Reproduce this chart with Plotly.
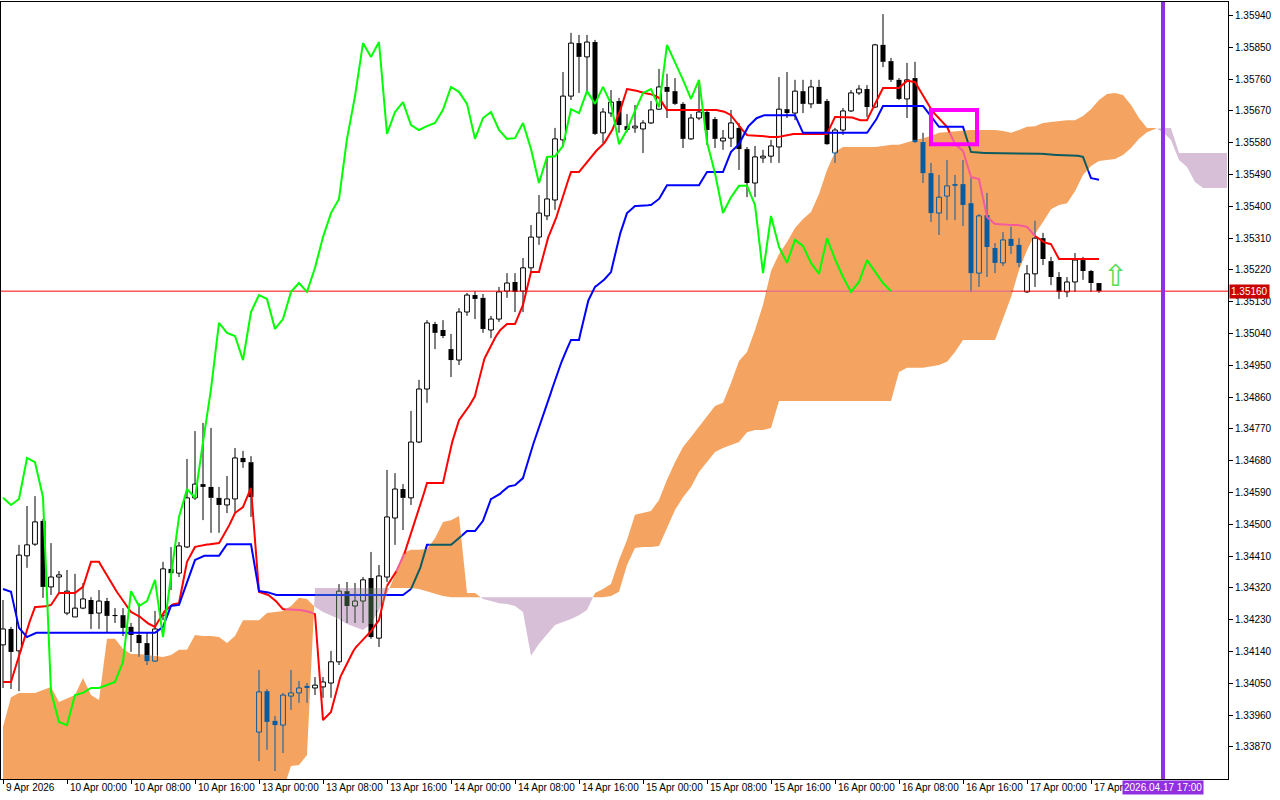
import numpy as np
import plotly.graph_objects as go

# ---------------- data (prices in points: 1 point = 0.00001) ----------------
tick_bars = [0, 8, 16, 24, 32, 40, 48, 56, 64, 72, 80, 88, 96, 104, 112, 120, 128, 136]
tick_labels = ["9 Apr 2026", "10 Apr 00:00", "10 Apr 08:00", "10 Apr 16:00", "13 Apr 00:00",
               "13 Apr 08:00", "13 Apr 16:00", "14 Apr 00:00", "14 Apr 08:00", "14 Apr 16:00",
               "15 Apr 00:00", "15 Apr 08:00", "15 Apr 16:00", "16 Apr 00:00", "16 Apr 08:00",
               "16 Apr 16:00", "17 Apr 00:00", "17 Apr 08:00"]
price_ticks = [1.33870, 1.33960, 1.34050, 1.34140, 1.34230, 1.34320, 1.34410, 1.34500,
               1.34590, 1.34680, 1.34770, 1.34860, 1.34950, 1.35040, 1.35130, 1.35220,
               1.35310, 1.35400, 1.35490, 1.35580, 1.35670, 1.35760, 1.35850, 1.35940]

open_pts = [134159, 134204, 134142, 134411, 134444, 134510, 134323, 134351, 134249, 134238,
            134263, 134286, 134249, 134283, 134243, 134243, 134210, 134187, 134164, 134113,
            134243, 134374, 134362, 134436, 134575, 134614, 134606, 134575, 134555, 134572,
            134688, 134676, 133912, 134028, 133944, 133932, 134014, 134023, 134043, 134037,
            134040, 134051, 134111, 134311, 134269, 134283, 134348, 134178, 134351, 134518,
            134600, 134575, 134733, 134883, 135067, 135050, 134996, 134965, 135101, 135149,
            135141, 135050, 135081, 135160, 135186, 135160, 135226, 135313, 135373, 135418,
            135588, 135712, 135862, 135823, 135865, 135608, 135664, 135698, 135627, 135622,
            135619, 135636, 135675, 135738, 135726, 135690, 135591, 135650, 135667, 135647,
            135585, 135593, 135622, 135562, 135466, 135537, 135542, 135568, 135675, 135664,
            135726, 135690, 135738, 135698, 135551, 135616, 135670, 135721, 135732, 135681,
            135857, 135811, 135758, 135704, 135763, 135582, 135494, 135381, 135429, 135463,
            135463, 135409, 135211, 135375, 135282, 135240, 135308, 135291, 135158, 135209,
            135310, 135245, 135200, 135158, 135186, 135248, 135217, 135183]
high_pts = [134286, 134210, 134442, 134552, 134580, 134515, 134447, 134368, 134371, 134360,
            134334, 134294, 134314, 134292, 134263, 134263, 134221, 134277, 134193, 134255,
            134394, 134436, 134450, 134685, 134764, 134787, 134773, 134606, 134637, 134716,
            134708, 134693, 134088, 134034, 133958, 134023, 134088, 134057, 134051, 134068,
            134068, 134142, 134331, 134337, 134334, 134351, 134422, 134385, 134654, 134645,
            134614, 134821, 134909, 135078, 135073, 135078, 135039, 135112, 135155, 135160,
            135152, 135090, 135172, 135211, 135211, 135254, 135347, 135432, 135540, 135622,
            135780, 135891, 135885, 135885, 135871, 135678, 135729, 135707, 135661, 135687,
            135644, 135698, 135789, 135775, 135763, 135695, 135661, 135755, 135673, 135653,
            135616, 135673, 135636, 135568, 135571, 135560, 135588, 135766, 135780, 135758,
            135758, 135758, 135758, 135704, 135622, 135678, 135729, 135743, 135743, 135860,
            135944, 135820, 135763, 135806, 135809, 135608, 135523, 135489, 135531, 135489,
            135531, 135480, 135378, 135438, 135296, 135327, 135342, 135310, 135234, 135359,
            135325, 135257, 135214, 135200, 135268, 135257, 135220, 135183]
low_pts = [134037, 134034, 134028, 134377, 134439, 134292, 134300, 134306, 134243, 134238,
           134260, 134204, 134204, 134195, 134221, 134184, 134139, 134125, 134102, 134111,
           134229, 134314, 134351, 134433, 134569, 134512, 134476, 134476, 134532, 134532,
           134660, 134521, 133830, 133862, 133802, 133853, 133975, 133995, 133995, 134017,
           134009, 134009, 134102, 134221, 134221, 134221, 134176, 134153, 134337, 134442,
           134484, 134555, 134730, 134844, 134996, 135027, 134917, 134951, 135090, 135081,
           135042, 135027, 135073, 135141, 135101, 135101, 135214, 135291, 135361, 135390,
           135568, 135701, 135721, 135724, 135602, 135579, 135653, 135608, 135610, 135608,
           135551, 135633, 135673, 135650, 135687, 135565, 135588, 135644, 135574, 135565,
           135560, 135568, 135503, 135426, 135426, 135523, 135523, 135523, 135650, 135644,
           135664, 135678, 135690, 135574, 135523, 135602, 135667, 135715, 135653, 135678,
           135794, 135752, 135701, 135650, 135579, 135466, 135356, 135319, 135361, 135361,
           135344, 135158, 135172, 135200, 135211, 135231, 135265, 135228, 135155, 135172,
           135234, 135177, 135138, 135143, 135158, 135192, 135158, 135155]
close_pts = [134204, 134139, 134413, 134442, 134507, 134323, 134351, 134357, 134311, 134263,
             134289, 134246, 134283, 134241, 134241, 134207, 134187, 134164, 134113, 134204,
             134374, 134362, 134439, 134575, 134614, 134606, 134575, 134555, 134572, 134688,
             134676, 134577, 134026, 133941, 133932, 134017, 134023, 134037, 134037, 134045,
             134054, 134111, 134311, 134269, 134283, 134343, 134181, 134354, 134521, 134600,
             134575, 134733, 134883, 135070, 135042, 135033, 134965, 135101, 135149, 135138,
             135053, 135081, 135158, 135183, 135158, 135226, 135313, 135381, 135421, 135591,
             135712, 135862, 135823, 135865, 135605, 135667, 135695, 135630, 135616, 135627,
             135636, 135673, 135738, 135724, 135690, 135591, 135650, 135667, 135616, 135591,
             135593, 135636, 135562, 135466, 135540, 135542, 135571, 135675, 135664, 135726,
             135690, 135738, 135690, 135576, 135616, 135670, 135721, 135732, 135681, 135857,
             135809, 135758, 135704, 135758, 135582, 135494, 135381, 135426, 135458, 135458,
             135404, 135211, 135373, 135285, 135240, 135305, 135288, 135240, 135209, 135310,
             135251, 135200, 135158, 135186, 135248, 135217, 135183, 135160]
tenkan_pts = [134054, 134054, 134130, 134204, 134266, 134266, 134272, 134306, 134306, 134306,
              134323, 134394, 134394, 134354, 134317, 134283, 134252, 134241, 134221, 134210,
              134249, 134272, 134277, 134394, 134436, 134442, 134444, 134447, 134484, 134532,
              134549, 134603, 134309, 134303, 134286, 134260, 134260, 134258, 134255, 134246,
              133946, 133969, 134060, 134108, 134150, 134173, 134198, 134229, 134326, 134360,
              134405, 134473, 134541, 134617, 134617, 134617, 134722, 134795, 134824, 134863,
              134960, 135008, 135047, 135067, 135067, 135121, 135214, 135214, 135305, 135356,
              135432, 135497, 135497, 135526, 135554, 135574, 135608, 135661, 135732, 135729,
              135721, 135718, 135707, 135673, 135673, 135673, 135673, 135673, 135675, 135673,
              135670, 135658, 135627, 135602, 135599, 135599, 135596, 135596, 135602, 135605,
              135605, 135605, 135605, 135605, 135653, 135653, 135653, 135644, 135644, 135690,
              135735, 135735, 135735, 135755, 135752, 135712, 135673, 135650, 135625, 135576,
              135557, 135483, 135477, 135370, 135350, 135350, 135347, 135347, 135342, 135316,
              135299, 135293, 135251, 135251, 135251, 135251, 135251, 135251]
kijun_pts = [134317, 134309, 134207, 134181, 134193, 134193, 134193, 134193, 134193, 134193,
             134193, 134193, 134193, 134193, 134193, 134193, 134193, 134193, 134193, 134193,
             134210, 134269, 134272, 134337, 134399, 134411, 134411, 134411, 134444, 134444,
             134444, 134444, 134311, 134309, 134300, 134300, 134300, 134300, 134300, 134300,
             134300, 134300, 134300, 134300, 134300, 134300, 134300, 134300, 134300, 134300,
             134300, 134317, 134365, 134442, 134442, 134442, 134442, 134461, 134481, 134481,
             134510, 134572, 134583, 134606, 134611, 134631, 134710, 134773, 134838, 134909,
             134971, 135022, 135022, 135126, 135172, 135189, 135214, 135313, 135381, 135401,
             135401, 135404, 135421, 135460, 135460, 135460, 135460, 135460, 135497, 135497,
             135497, 135554, 135576, 135622, 135647, 135658, 135658, 135658, 135658, 135658,
             135608, 135608, 135608, 135608, 135608, 135608, 135608, 135608, 135608, 135639,
             135684, 135684, 135684, 135684, 135684, 135684, 135656, 135625, 135625, 135625,
             135625, 135554, 135551, 135551, 135551, 135551, 135551, 135551, 135551, 135551,
             135548, 135545, 135545, 135545, 135545, 135540, 135480, 135475]
span_a_pts = [133927, 134011, 134023, 134023, 134023, 134031, 134040, 133997, 134006, 134017,
              134065, 134017, 134003, 134176, 134176, 134147, 134133, 134133, 134130, 134128,
              134125, 134130, 134145, 134145, 134187, 134184, 134184, 134181, 134164, 134184,
              134229, 134229, 134229, 134249, 134252, 134255, 134269, 134292, 134289, 134266,
              134252, 134241, 134232, 134218, 134210, 134201, 134218, 134258, 134303, 134357,
              134419, 134428, 134428, 134430, 134461, 134507, 134512, 134524, 134306, 134306,
              134289, 134283, 134277, 134275, 134269, 134252, 134128, 134162, 134190, 134215,
              134224, 134232, 134243, 134258, 134306, 134317, 134331, 134399, 134456, 134527,
              134532, 134538, 134569, 134626, 134676, 134719, 134747, 134776, 134807, 134835,
              134844, 134900, 134962, 134988, 135050, 135121, 135217, 135265, 135299, 135339,
              135364, 135384, 135435, 135503, 135554, 135568, 135568, 135568, 135568, 135568,
              135571, 135574, 135574, 135582, 135588, 135593, 135599, 135608, 135610, 135613,
              135616, 135616, 135616, 135616, 135616, 135613, 135608, 135616, 135625, 135627,
              135636, 135639, 135642, 135644, 135644, 135656, 135675, 135701, 135718, 135721,
              135715, 135687, 135650, 135622, 135622, 135610, 135588, 135531, 135511, 135469,
              135452, 135452, 135452, 135452]
span_b_pts = [133720, 133720, 133720, 133720, 133720, 133720, 133720, 133720, 133720, 133720,
              133720, 133720, 133720, 133720, 133720, 133720, 133720, 133720, 133720, 133720,
              133720, 133720, 133720, 133720, 133720, 133720, 133720, 133720, 133720, 133720,
              133720, 133720, 133720, 133720, 133720, 133748, 133816, 133819, 133847, 134320,
              134320, 134320, 134320, 134320, 134320, 134320, 134320, 134320, 134320, 134320,
              134320, 134320, 134317, 134311, 134303, 134297, 134294, 134294, 134294, 134294,
              134294, 134294, 134294, 134294, 134294, 134294, 134294, 134294, 134294, 134294,
              134294, 134294, 134294, 134294, 134294, 134294, 134297, 134309, 134385, 134433,
              134436, 134436, 134439, 134490, 134541, 134577, 134606, 134648, 134676, 134705,
              134716, 134725, 134733, 134761, 134767, 134767, 134773, 134849, 134849, 134849,
              134849, 134849, 134849, 134849, 134849, 134849, 134849, 134849, 134849, 134849,
              134849, 134849, 134931, 134943, 134943, 134943, 134948, 134951, 134960, 134988,
              135022, 135022, 135022, 135022, 135022, 135084, 135143, 135220, 135276, 135322,
              135356, 135392, 135404, 135409, 135443, 135489, 135514, 135528, 135531, 135534,
              135545, 135565, 135591, 135610, 135619, 135622, 135622, 135551, 135551, 135551,
              135551, 135551, 135551, 135551]
CHIKOU_SHIFT = 26
bid_price = 1.35160
event_bar = 145
event_label = "2026.04.17 17:00"
signal_bar = 139
signal_price = 1.35203
box_bars = [116.0, 121.75]
box_prices = [1.35673, 1.35576]

# ---------------- preparation ----------------
PT = 1e-5
o = np.array(open_pts) * PT
h = np.array(high_pts) * PT
l = np.array(low_pts) * PT
c = np.array(close_pts) * PT
ten = np.array(tenkan_pts) * PT
kij = np.array(kijun_pts) * PT
sa = np.array(span_a_pts) * PT
sb = np.array(span_b_pts) * PT
bars = np.arange(len(o))
cloud_x = np.arange(len(sa))

ORANGE = "#F4A460"
THISTLE = "#D8BFD8"
BLACK = {"n": "#000000", "o": "#0B5B9F", "p": "#274027"}
RED = {"n": "#FF0000", "o": "#F45B9F", "p": "#D84027"}
BLUE = {"n": "#0000FF", "o": "#0B5B60", "p": "#2740D8"}
HLINE = {"n": "#FF0000", "o": "#E0609F", "p": "#D84027"}


def classify(x, v):
    a = np.interp(x, cloud_x, sa)
    b = np.interp(x, cloud_x, sb)
    if min(a, b) < v < max(a, b):
        return "o" if a > b else "p"
    return "n"


def split_line(xs, vs, sub=6):
    fx, fv = [], []
    for k in range(len(xs) - 1):
        for j in range(sub):
            fx.append(xs[k] + (xs[k + 1] - xs[k]) * j / sub)
            fv.append(vs[k] + (vs[k + 1] - vs[k]) * j / sub)
    fx.append(xs[-1]); fv.append(vs[-1])
    res = {k: ([], []) for k in "nop"}
    prev = None
    for i in range(len(fx) - 1):
        cl = classify((fx[i] + fx[i + 1]) / 2, (fv[i] + fv[i + 1]) / 2)
        X, Y = res[cl]
        if cl != prev:
            if X:
                X.append(None); Y.append(None)
            X.append(fx[i]); Y.append(fv[i])
        X.append(fx[i + 1]); Y.append(fv[i + 1])
        prev = cl
    return res


def vsplit(y0, y1, lo, hi, ccls):
    a, b = min(y0, y1), max(y0, y1)
    if ccls == "n":
        return [("n", a, b)]
    out = []
    if a < lo:
        out.append(("n", a, min(b, lo)))
    ia, ib = max(a, lo), min(b, hi)
    if ia < ib:
        out.append((ccls, ia, ib))
    if b > hi:
        out.append(("n", max(a, hi), b))
    return out


fig = go.Figure()

# ---------------- cloud ----------------
pts = []
n = len(cloud_x)
for k in range(n):
    pts.append((cloud_x[k], sa[k], sb[k]))
    if k < n - 1:
        d0 = sa[k] - sb[k]
        d1 = sa[k + 1] - sb[k + 1]
        if d0 * d1 < 0:
            t = d0 / (d0 - d1)
            xc = cloud_x[k] + t
            yc = sa[k] + t * (sa[k + 1] - sa[k])
            pts.append((xc, yc, yc))
runs = []
cur = [pts[0]]
cur_s = np.sign(pts[0][1] - pts[0][2])
for p in pts[1:]:
    s = np.sign(p[1] - p[2])
    if s == 0:
        cur.append(p)
        runs.append((cur_s, cur))
        cur = [p]
        cur_s = 0
    else:
        if cur_s == 0:
            cur_s = s
        cur.append(p)
runs.append((cur_s, cur))
poly = {1: ([], []), -1: ([], [])}
for s, run in runs:
    if s == 0 or len(run) < 2:
        continue
    X, Y = poly[int(s)]
    X += [p[0] for p in run] + [p[0] for p in reversed(run)] + [None]
    Y += [p[1] for p in run] + [p[2] for p in reversed(run)] + [None]
for s, col in ((1, ORANGE), (-1, THISTLE)):
    fig.add_trace(go.Scatter(x=poly[s][0], y=poly[s][1], mode="lines", fill="toself",
                             fillcolor=col, line=dict(width=0, color=col), hoverinfo="skip"))

# ---------------- candles ----------------
HW = 0.3
MIN_BODY = 1.5e-5
edges = {k: ([], []) for k in "nop"}
bodies = {k: ([], []) for k in "nop"}
for i in bars:
    ai, bi = sa[i], sb[i]
    lo, hi = min(ai, bi), max(ai, bi)
    ccls = "o" if ai > bi else ("p" if ai < bi else "n")
    top, bot = max(o[i], c[i]), min(o[i], c[i])
    for y0, y1 in ((l[i], bot), (top, h[i])):
        if y1 - y0 <= 0:
            continue
        for cl, ya, yb in vsplit(y0, y1, lo, hi, ccls):
            X, Y = edges[cl]
            X += [i, i, None]; Y += [ya, yb, None]
    if c[i] < o[i]:
        if top - bot < 2 * MIN_BODY:
            mid = (top + bot) / 2
            bot, top = mid - MIN_BODY, mid + MIN_BODY
        for cl, ya, yb in vsplit(bot, top, lo, hi, ccls):
            X, Y = bodies[cl]
            X += [i, i, None]; Y += [ya, yb, None]
    else:
        for xs in (i - HW, i + HW):
            for cl, ya, yb in vsplit(bot, top, lo, hi, ccls):
                X, Y = edges[cl]
                X += [xs, xs, None]; Y += [ya, yb, None]
        for yv in (bot, top):
            cl = ccls if lo < yv < hi else "n"
            X, Y = edges[cl]
            X += [i - HW, i + HW, None]; Y += [yv, yv, None]

for cl in "nop":
    fig.add_trace(go.Scatter(x=bodies[cl][0], y=bodies[cl][1], mode="lines",
                             line=dict(color=BLACK[cl], width=5), hoverinfo="skip"))
    fig.add_trace(go.Scatter(x=edges[cl][0], y=edges[cl][1], mode="lines",
                             line=dict(color=BLACK[cl], width=1), hoverinfo="skip"))

# ---------------- bid line ----------------
hx = [-0.25] + list(range(0, 154)) + [153.125]
hv = [bid_price] * len(hx)
res = split_line(hx, hv, sub=2)
for cl in "nop":
    fig.add_trace(go.Scatter(x=res[cl][0], y=res[cl][1], mode="lines",
                             line=dict(color=HLINE[cl], width=1), hoverinfo="skip"))

# ---------------- ichimoku lines ----------------
for vals, cols in ((ten, RED), (kij, BLUE)):
    res = split_line(list(bars), list(vals))
    for cl in "nop":
        fig.add_trace(go.Scatter(x=res[cl][0], y=res[cl][1], mode="lines",
                                 line=dict(color=cols[cl], width=2), hoverinfo="skip"))

fig.add_trace(go.Scatter(x=bars[:-CHIKOU_SHIFT], y=c[CHIKOU_SHIFT:], mode="lines",
                         line=dict(color="#00FF00", width=2), hoverinfo="skip"))

# ---------------- objects ----------------
fig.add_shape(type="rect", x0=box_bars[0], x1=box_bars[1], y0=box_prices[0], y1=box_prices[1],
              xref="x", yref="y", line=dict(color="#FF00FF", width=4))
fig.add_shape(type="line", x0=event_bar, x1=event_bar, y0=0, y1=1, xref="x", yref="paper",
              line=dict(color="#9030E0", width=4))
fig.add_annotation(x=signal_bar, y=signal_price, text="⇧", showarrow=False,
                   font=dict(size=30, color="#55DD55", family="DejaVu Sans"))

for b, t in zip(tick_bars, tick_labels):
    fig.add_annotation(x=b + 0.1, y=0, xref="x", yref="paper", text=t, showarrow=False,
                       xanchor="left", yanchor="top", yshift=-1,
                       font=dict(size=10, color="black", family="Liberation Sans"))
fig.add_annotation(x=event_bar, y=0, xref="x", yref="paper", text=event_label, showarrow=False,
                   xanchor="center", yanchor="top", yshift=-1, bgcolor="#9030E0", borderpad=1,
                   font=dict(size=10, color="white", family="Liberation Sans"))
fig.add_annotation(x=1, y=bid_price, xref="paper", yref="y", text=f"{bid_price:.5f}",
                   showarrow=False, xanchor="left", xshift=1, bgcolor="#C80000", borderpad=1,
                   font=dict(size=10, color="white", family="Liberation Sans"))

fig.update_layout(width=1280, height=800, margin=dict(l=1, r=52, t=2, b=21),
                  plot_bgcolor="white", paper_bgcolor="white", showlegend=False)
fig.update_xaxes(range=[-0.25, 153.125], showgrid=False, zeroline=False, showline=True,
                 mirror=True, linecolor="black", linewidth=1, ticks="outside", ticklen=4,
                 tickcolor="black", tickvals=tick_bars, showticklabels=False)
fig.update_yaxes(range=[1.337794, 1.359783], side="right", showgrid=False, zeroline=False,
                 showline=True, mirror=True, linecolor="black", linewidth=1, ticks="outside",
                 ticklen=4, tickcolor="black", tickvals=price_ticks,
                 ticktext=[f"{v:.5f}" for v in price_ticks],
                 tickfont=dict(family="Liberation Sans", size=10, color="black"))

fig.write_html("out.html", config={"displayModeBar": False},
               post_script="document.body.style.margin='0';")
